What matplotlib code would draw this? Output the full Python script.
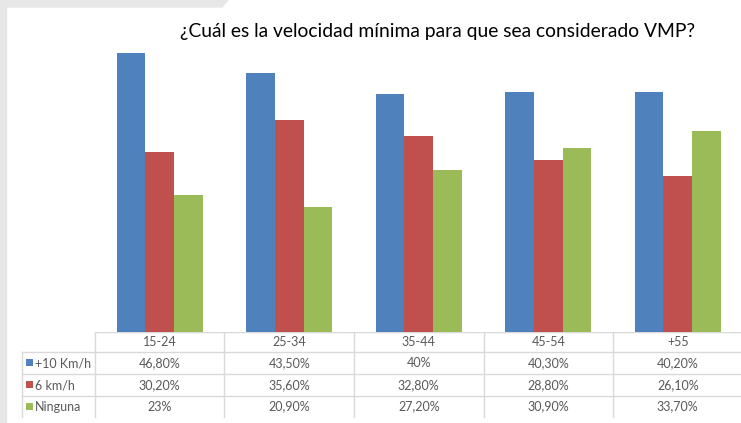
import matplotlib.pyplot as plt
from matplotlib.patches import Polygon, Rectangle
import numpy as np

plt.rcParams['font.family'] = ['Lato', 'DejaVu Sans']

categories = ['15-24', '25-34', '35-44', '45-54', '+55']
series_names = ['+10 Km/h', '6 km/h', 'Ninguna']
values = [
    [46.8, 43.5, 40.0, 40.3, 40.2],
    [30.2, 35.6, 32.8, 28.8, 26.1],
    [23.0, 20.9, 27.2, 30.9, 33.7],
]
value_labels = [
    ['46,80%', '43,50%', '40%', '40,30%', '40,20%'],
    ['30,20%', '35,60%', '32,80%', '28,80%', '26,10%'],
    ['23%', '20,90%', '27,20%', '30,90%', '33,70%'],
]
colors = ['#4F81BD', '#C0504D', '#9BBB59']
title = '¿Cuál es la velocidad mínima para que sea considerado VMP?'

W, H = 741, 423
fig = plt.figure(figsize=(W / 100, H / 100), dpi=100)

# grey frame bits at the left and top
fig.patches.append(Rectangle((0, 0), 6 / W, 1, transform=fig.transFigure,
                             color='#e7e7e7', zorder=0))
fig.patches.append(Polygon([(0, 1), (228 / W, 1), (222 / W, 1 - 7 / H), (0, 1 - 7 / H)],
                           closed=True, transform=fig.transFigure,
                           color='#e7e7e7', zorder=0))

# bar area: baseline at y=332px, x from 95px to right edge
base_px = 332
px_per_unit = 279 / 46.8
ymax = 50
top_px = base_px - ymax * px_per_unit
col_w = 129.5
left_px = 95
ax = fig.add_axes([left_px / W, (H - base_px) / H, 5 * col_w / W, (base_px - top_px) / H])
x = np.arange(len(categories))
bw = 0.222
for i, (vals, c) in enumerate(zip(values, colors)):
    ax.bar(x + (i - 1) * bw, vals, bw, color=c, zorder=2)
ax.set_xlim(-0.5, 4.5)
ax.set_ylim(0, ymax)
ax.axis('off')

fig.text(438 / W, 1 - 32 / H, title, ha='center', va='center',
         fontsize=13.9, color='#000000')

# data table underneath
tax = fig.add_axes([0, 0, 1, (H - base_px) / H])
x0 = -0.5 - left_px / col_w
tax.set_xlim(x0, x0 + W / col_w)
tax.set_ylim(H, base_px)
tax.axis('off')

grid_c = '#d9d9d9'
text_c = '#595959'
rows = [332, 352, 374, 396, 417]
label_left = -0.5 - (left_px - 22) / col_w

# horizontal lines
tax.plot([-0.5, 4.5], [rows[0], rows[0]], color=grid_c, lw=1)
for yy in rows[1:4]:
    tax.plot([label_left, 4.5], [yy, yy], color=grid_c, lw=1)
# vertical lines
tax.plot([label_left, label_left], [rows[1], rows[-1]], color=grid_c, lw=1)
for k in range(len(categories) + 1):
    xx = k - 0.5
    tax.plot([xx, xx], [rows[0], rows[-1]], color=grid_c, lw=1)

fs = 9
for k, cat in enumerate(categories):
    tax.text(k, (rows[0] + rows[1]) / 2, cat, ha='center', va='center',
             fontsize=fs, color=text_c)
for r in range(3):
    yc = (rows[r + 1] + rows[r + 2]) / 2
    tax.add_patch(Rectangle((label_left + 4 / col_w, yc - 3.5), 7 / col_w, 7,
                            color=colors[r], lw=0))
    tax.text(label_left + 13 / col_w, yc, series_names[r], ha='left', va='center',
             fontsize=fs, color=text_c)
    for k in range(len(categories)):
        tax.text(k, yc, value_labels[r][k], ha='center', va='center',
                 fontsize=fs, color=text_c)

fig.savefig('out.png', dpi=100)
